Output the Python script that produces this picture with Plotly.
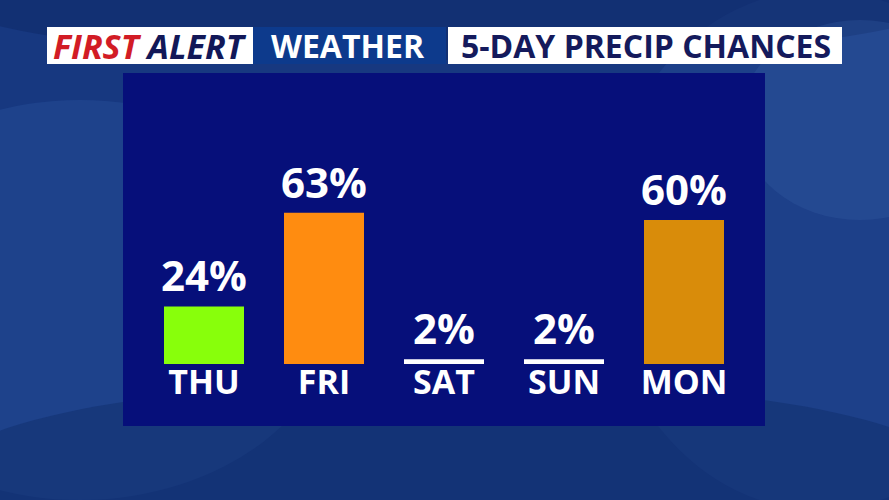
import plotly.graph_objects as go

days = ["THU", "FRI", "SAT", "SUN", "MON"]
chances = [24, 63, 2, 2, 60]
bar_colors = ["#88FF0B", "#FF8C10", "#FFFFFF", "#FFFFFF", "#D98C0A"]
labels = [f"{v}%" for v in chances]

W, H = 889, 500

def px(x):
    return x / W

def py(y):
    return 1 - y / H

fig = go.Figure()
fig.add_trace(go.Bar(
    x=days, y=chances, marker=dict(color=bar_colors, line=dict(width=0)),
    text=labels, textposition="outside", cliponaxis=False, constraintext="none",
    textfont=dict(family="Open Sans", size=42, color="white", weight="bold"),
    hoverinfo="skip",
))

shapes = []
shapes.append(dict(type="rect", xref="paper", yref="paper", x0=0, x1=1, y0=0, y1=1,
                   fillcolor="#173880", line_width=0, layer="below"))
for (cx, cy, rx, ry, col, op) in [
    (80, 300, 260, 200, "#2c56a0", 0.35), (820, 250, 220, 260, "#2a52a0", 0.3),
    (450, 470, 500, 90, "#0f2d6c", 0.5), (450, 0, 500, 60, "#0d2766", 0.5),
    (860, 120, 120, 100, "#3a64ad", 0.25)]:
    shapes.append(dict(type="circle", xref="paper", yref="paper",
                       x0=px(cx - rx), x1=px(cx + rx), y0=py(cy + ry), y1=py(cy - ry),
                       fillcolor=col, opacity=op, line_width=0, layer="below"))
shapes.append(dict(type="rect", xref="paper", yref="paper", x0=px(123), x1=px(765),
                   y0=py(426), y1=py(73), fillcolor="#060f7a", line_width=0, layer="below"))
shapes.append(dict(type="rect", xref="paper", yref="paper", x0=px(47), x1=px(253),
                   y0=py(64), y1=py(27), fillcolor="white", line_width=0, layer="below"))
shapes.append(dict(type="rect", xref="paper", yref="paper", x0=px(253), x1=px(446),
                   y0=py(64), y1=py(27), fillcolor="#0d3a8c", line_width=0, layer="below"))
shapes.append(dict(type="rect", xref="paper", yref="paper", x0=px(448), x1=px(842),
                   y0=py(64), y1=py(27), fillcolor="white", line_width=0, layer="below"))

annotations = [
    dict(x=px(150), y=py(46), xref="paper", yref="paper", showarrow=False,
         text="<i><span style='color:#D21C25'>FIRST</span> <span style='color:#121858'>ALERT</span></i>",
         font=dict(family="Open Sans", size=34, weight="bold"), xanchor="center", yanchor="middle"),
    dict(x=px(348), y=py(46), xref="paper", yref="paper", showarrow=False,
         text="WEATHER", font=dict(family="Open Sans", size=32, color="white", weight="bold"),
         xanchor="center", yanchor="middle"),
    dict(x=px(646), y=py(46), xref="paper", yref="paper", showarrow=False,
         text="5-DAY PRECIP CHANCES", font=dict(family="Open Sans", size=32, color="#141A5C", weight="bold"),
         xanchor="center", yanchor="middle"),
]

fig.update_layout(
    width=W, height=H, margin=dict(l=0, r=0, t=0, b=0),
    paper_bgcolor="#173880", plot_bgcolor="rgba(0,0,0,0)",
    showlegend=False, bargap=1/3,
    shapes=shapes, annotations=annotations,
    xaxis=dict(domain=[px(144), px(744)], range=[-0.5, 4.5], showgrid=False, zeroline=False,
               showline=False, ticks="", ticklabelstandoff=-5,
               tickfont=dict(family="Open Sans", size=34, color="white", weight="bold")),
    yaxis=dict(domain=[py(364), py(124)], range=[0, 100], visible=False, showgrid=False),
)

fig.write_html("out.html")
